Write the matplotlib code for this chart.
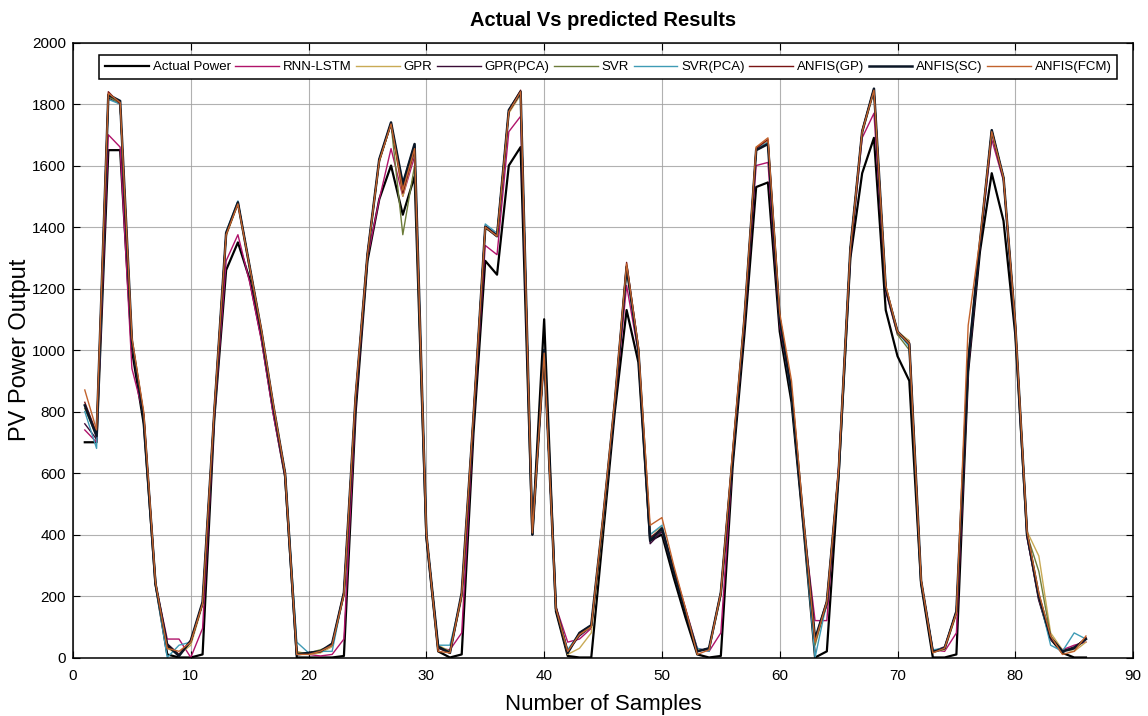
import matplotlib
matplotlib.use("Agg")
import matplotlib.pyplot as plt

plt.rcParams['font.family'] = ['Liberation Sans', 'DejaVu Sans']

# sample index
samples = list(range(1, 87))

actual_power = [700, 700, 1650, 1650, 1000, 760, 240, 10, 0, 0,
                10, 780, 1260, 1350, 1230, 1040, 800, 590, 0, 0,
                0, 0, 5, 800, 1290, 1490, 1600, 1440, 1565, 390,
                20, 0, 10, 730, 1290, 1245, 1600, 1660, 400, 1100,
                150, 5, 0, 0, 400, 800, 1130, 960, 380, 400,
                260, 130, 10, 0, 5, 620, 1050, 1530, 1545, 1060,
                830, 430, 0, 20, 590, 1300, 1575, 1690, 1130, 980,
                900, 240, 0, 0, 10, 930, 1320, 1575, 1420, 1050,
                400, 190, 60, 15, 0, 0]

rnn_lstm = [740, 700, 1700, 1660, 940, 790, 240, 60, 60, 0,
            95, 780, 1290, 1375, 1220, 1030, 790, 590, 15, 10,
            5, 10, 60, 820, 1300, 1490, 1655, 1500, 1630, 400,
            30, 25, 80, 760, 1340, 1310, 1710, 1760, 410, 980,
            165, 50, 60, 95, 440, 820, 1210, 990, 390, 410,
            290, 160, 30, 20, 80, 640, 1080, 1600, 1610, 1080,
            860, 440, 120, 120, 620, 1310, 1690, 1770, 1190, 1050,
            1030, 250, 25, 20, 80, 940, 1340, 1685, 1550, 1070,
            390, 190, 60, 25, 40, 50]

gpr = [820, 730, 1830, 1800, 1020, 790, 240, 30, 10, 40,
       170, 800, 1370, 1475, 1260, 1060, 820, 600, 20, 10,
       15, 35, 200, 850, 1305, 1610, 1735, 1500, 1650, 400,
       40, 20, 190, 780, 1395, 1375, 1770, 1830, 400, 990,
       160, 10, 30, 80, 430, 830, 1265, 1000, 400, 425,
       285, 155, 25, 25, 200, 660, 1100, 1660, 1680, 1110,
       870, 450, 50, 170, 600, 1330, 1705, 1840, 1210, 1060,
       1030, 250, 20, 25, 140, 980, 1350, 1710, 1560, 1090,
       410, 330, 80, 25, 20, 50]

gpr_pca = [760, 710, 1820, 1800, 1030, 780, 240, 45, 10, 50,
           175, 800, 1375, 1480, 1270, 1060, 815, 600, 10, 15,
           20, 40, 205, 850, 1310, 1615, 1735, 1530, 1665, 400,
           35, 15, 200, 780, 1405, 1375, 1775, 1835, 400, 990,
           160, 20, 70, 100, 450, 830, 1275, 1000, 370, 410,
           280, 150, 20, 30, 205, 650, 1100, 1650, 1675, 1100,
           860, 450, 60, 170, 600, 1330, 1710, 1845, 1200, 1060,
           1020, 250, 20, 35, 150, 950, 1350, 1710, 1560, 1080,
           400, 200, 65, 20, 35, 60]

svr = [810, 720, 1825, 1800, 1030, 780, 240, 35, 10, 50,
       175, 800, 1380, 1480, 1270, 1060, 820, 600, 15, 15,
       25, 40, 210, 850, 1310, 1615, 1735, 1375, 1600, 400,
       35, 20, 205, 780, 1400, 1370, 1780, 1840, 400, 990,
       160, 20, 75, 100, 450, 830, 1270, 1000, 385, 415,
       280, 150, 20, 30, 210, 650, 1100, 1650, 1670, 1100,
       860, 450, 40, 180, 600, 1330, 1710, 1850, 1200, 1050,
       1000, 250, 18, 30, 150, 960, 1350, 1715, 1560, 1080,
       400, 280, 70, 20, 30, 60]

svr_pca = [800, 680, 1815, 1800, 1030, 780, 240, 0, 40, 50,
           180, 800, 1385, 1485, 1270, 1060, 820, 600, 50, 15,
           20, 20, 210, 850, 1310, 1620, 1740, 1545, 1670, 400,
           40, 40, 200, 780, 1410, 1380, 1780, 1840, 400, 1000,
           160, 25, 80, 105, 450, 830, 1265, 1000, 400, 430,
           280, 150, 30, 20, 210, 650, 1100, 1655, 1675, 1100,
           850, 440, 0, 180, 600, 1330, 1710, 1850, 1200, 1060,
           1010, 250, 25, 30, 150, 960, 1350, 1715, 1560, 1080,
           400, 200, 40, 20, 80, 60]

anfis_gp = [830, 730, 1840, 1800, 1030, 790, 240, 40, 10, 55,
            180, 810, 1380, 1480, 1270, 1060, 820, 600, 10, 15,
            20, 45, 215, 850, 1315, 1620, 1740, 1510, 1650, 400,
            30, 15, 210, 790, 1400, 1370, 1780, 1845, 410, 990,
            165, 15, 80, 105, 450, 830, 1285, 1010, 390, 420,
            285, 150, 20, 30, 215, 660, 1100, 1655, 1685, 1110,
            870, 455, 60, 185, 610, 1330, 1715, 1850, 1200, 1060,
            1020, 250, 18, 30, 150, 960, 1350, 1715, 1560, 1085,
            405, 200, 65, 20, 30, 65]

anfis_sc = [820, 720, 1830, 1810, 1030, 780, 240, 40, 5, 55,
            180, 800, 1380, 1480, 1270, 1060, 820, 600, 10, 15,
            20, 45, 210, 850, 1310, 1620, 1740, 1540, 1670, 400,
            35, 15, 210, 780, 1400, 1370, 1780, 1840, 400, 1000,
            160, 15, 80, 105, 450, 830, 1270, 1000, 380, 420,
            280, 150, 20, 30, 210, 650, 1100, 1650, 1670, 1100,
            860, 450, 60, 180, 600, 1330, 1710, 1850, 1200, 1060,
            1020, 250, 18, 30, 150, 960, 1350, 1715, 1560, 1080,
            400, 200, 65, 20, 30, 60]

anfis_fcm = [870, 740, 1835, 1805, 1040, 800, 245, 30, 20, 50,
             175, 810, 1375, 1475, 1270, 1065, 825, 600, 10, 10,
             20, 40, 205, 860, 1310, 1615, 1735, 1520, 1655, 405,
             20, 15, 205, 790, 1400, 1370, 1775, 1840, 405, 990,
             160, 20, 75, 100, 460, 840, 1280, 1010, 430, 455,
             300, 160, 10, 25, 210, 670, 1110, 1660, 1690, 1120,
             900, 460, 50, 180, 610, 1330, 1710, 1845, 1210, 1060,
             1020, 255, 15, 30, 145, 1080, 1360, 1710, 1560, 1090,
             410, 210, 70, 10, 20, 70]

# (label, values, colour, width)
series = [
    ('Actual Power', actual_power, 'black', 1.6),
    ('RNN-LSTM', rnn_lstm, '#b0136a', 1.0),
    ('GPR', gpr, '#c9aa55', 1.0),
    ('GPR(PCA)', gpr_pca, '#3a0b36', 1.0),
    ('SVR', svr, '#6d7c3a', 1.0),
    ('SVR(PCA)', svr_pca, '#3f9bb5', 1.0),
    ('ANFIS(GP)', anfis_gp, '#7a1414', 1.0),
    ('ANFIS(SC)', anfis_sc, '#0b1626', 1.8),
    ('ANFIS(FCM)', anfis_fcm, '#c2632d', 1.0),
]

fig = plt.figure(figsize=(11.48, 7.16), dpi=100)
ax = fig.add_axes([0.0636, 0.0817, 0.9234, 0.8589])

for name, vals, col, lw in series:
    ax.plot(samples, vals, color=col, linewidth=lw, label=name)

ax.set_xlim(0, 90)
ax.set_ylim(0, 2000)
ax.set_xticks(range(0, 91, 10))
ax.set_yticks(range(0, 2001, 200))
ax.grid(True, color='0.62', linewidth=0.8, alpha=0.8)
ax.tick_params(direction='in', top=True, right=True, length=5, labelsize=11)
ax.tick_params(axis='x', pad=8)
ax.tick_params(axis='y', pad=5)
for s in ax.spines.values():
    s.set_linewidth(1.1)

ax.set_title('Actual Vs predicted Results', fontsize=14.5, fontweight='bold', pad=12)
ax.set_xlabel('Number of Samples', fontsize=16, labelpad=8)
ax.set_ylabel('PV Power Output', fontsize=17, labelpad=1)

leg = ax.legend(ncol=9, loc='upper center', bbox_to_anchor=(0.505, 0.99),
                fontsize=9.5, frameon=True, fancybox=False, edgecolor='black',
                framealpha=1, handlelength=3.3, handletextpad=0.3,
                columnspacing=0.35, borderpad=0.45)
leg.get_frame().set_linewidth(1.1)

fig.savefig('out.png', dpi=100)
